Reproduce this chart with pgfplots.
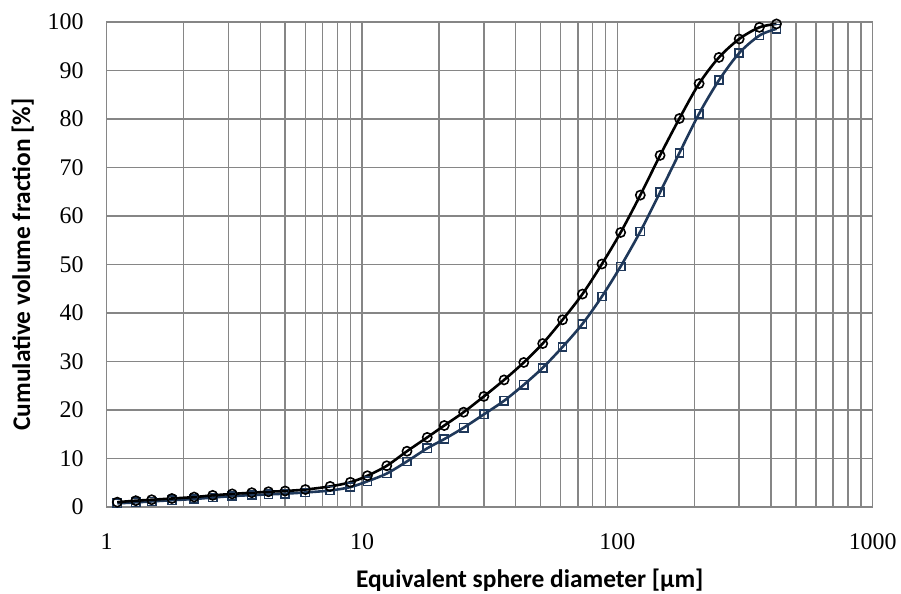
\documentclass[border=0pt]{standalone}
\usepackage{fontspec}
\setmainfont{Liberation Serif}
\newfontfamily\calibri{Carlito}
\usepackage{pgfplots}
\pgfplotsset{compat=1.18}
\definecolor{gridgray}{RGB}{134,134,134}
\definecolor{navy}{RGB}{31,56,90}
\begin{document}
\begin{tikzpicture}
\path[use as bounding box] (-106.7bp,-87bp) rectangle (794.3bp,507bp);
\begin{axis}[
  at={(0,0)}, anchor=south west,
  scale only axis, width=766bp, height=485bp,
  xmode=log, xmin=1, xmax=1000, ymin=0, ymax=100,
  enlargelimits=false, clip=false,
  xtick={1,10,100,1000}, xticklabels={1,10,100,1000},
  ytick={0,10,...,100},
  /pgf/number format/assume math mode=true,
  tick style={draw=none},
  xmajorgrids, xminorgrids, ymajorgrids,
  grid style={draw=gridgray, line width=1.4bp},
  minor grid style={draw=gridgray, line width=1.4bp},
  axis line style={draw=gridgray, line width=1.4bp},
  tick label style={font=\fontsize{24}{28}\selectfont, inner sep=0pt},
  xticklabel style={anchor=center, yshift=-35bp},
  yticklabel style={anchor=east, xshift=-23bp},
  xlabel={\calibri\bfseries Equivalent sphere diameter [µm]},
  ylabel={\calibri\bfseries Cumulative volume fraction [\%]},
  label style={font=\fontsize{25.5}{30}\selectfont},
  xlabel style={at={(axis description cs:0.5,0)}, anchor=center, yshift=-73bp, xshift=40bp},
  ylabel style={at={(axis description cs:0,0.5)}, anchor=center, yshift=84bp},
]
\addplot[navy, line width=2.6bp, smooth, mark=square, mark size=4.1bp, mark options={line width=1.6bp, fill=none}] coordinates {
(1.1,0.75)(1.3,0.95)(1.5,1.15)(1.8,1.4)(2.2,1.65)(2.6,1.95)(3.1,2.25)(3.7,2.45)(4.3,2.6)(5.0,2.75)(6.0,3.0)(7.5,3.4)(9.0,4.1)(10.5,5.3)(12.5,6.9)(15,9.4)(18,12.1)(21,14.0)(25,16.35)(30,19.1)(36,21.9)(43,25.2)(51,28.7)(61,33.0)(73,37.75)(87,43.4)(103,49.6)(123,56.8)(147,64.9)(175,73.0)(209,81.1)(250,88.0)(300,93.6)(360,97.2)(420,98.6)
};
\addplot[black, line width=2.6bp, smooth, mark=o, mark size=4.6bp, mark options={line width=1.6bp, fill=none}] coordinates {
(1.1,1.0)(1.3,1.3)(1.5,1.5)(1.8,1.75)(2.2,2.05)(2.6,2.4)(3.1,2.7)(3.7,2.95)(4.3,3.15)(5.0,3.3)(6.0,3.6)(7.5,4.25)(9.0,5.1)(10.5,6.45)(12.5,8.5)(15,11.5)(18,14.35)(21,16.8)(25,19.55)(30,22.8)(36,26.2)(43,29.8)(51,33.7)(61,38.6)(73,43.9)(87,50.1)(103,56.6)(123,64.3)(147,72.5)(175,80.1)(209,87.3)(250,92.7)(300,96.5)(360,98.9)(420,99.6)
};
\end{axis}
\end{tikzpicture}
\end{document}
